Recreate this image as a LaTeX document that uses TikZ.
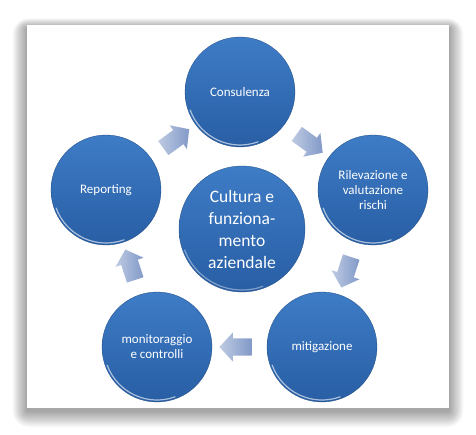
\documentclass[tikz,border=0pt]{standalone}
\usepackage{fontspec}
\setmainfont{Carlito}
\usetikzlibrary{shapes.arrows,calc}
\definecolor{circtop}{RGB}{62,124,198}
\definecolor{circbot}{RGB}{40,94,164}
\definecolor{arrtop}{RGB}{190,202,226}
\definecolor{arrbot}{RGB}{130,154,200}
\tikzset{
  bub/.style={circle, minimum size=110pt, inner sep=0pt, top color=circtop, bottom color=circbot, draw=circbot!80!black, line width=0.3pt, text=white, align=center, font=\fontsize{13}{15}\selectfont},
  bigbub/.style={bub, minimum size=126pt, font=\fontsize{17.5}{22}\selectfont},
  flow/.style={single arrow, draw=none, inner xsep=0pt, inner ysep=8.5pt, minimum height=32pt, single arrow head extend=6pt, single arrow tip angle=95, left color=arrtop, right color=arrbot},
  rim/.style={white, opacity=0.6, line width=1.2pt, line cap=round}
}
\begin{document}
\begin{tikzpicture}[x=1pt,y=-1pt]
\useasboundingbox (0,0) rectangle (476,435);
\fill[white] (0,0) rectangle (476,435);
% panel shadow
\foreach \i in {1,...,16}{
  \fill[black, opacity=0.022, rounded corners=\i pt] (27-\i*0.9, 25-\i*0.6+3) rectangle (449+\i*0.9, 408+\i*1.0+3);
}
\fill[white] (27,25) rectangle (449,408);
% circles
\node[bub] (con) at (240,92) {Consulenza};
\node[bub] (ril) at (373,190) {Rilevazione e\\valutazione\\rischi};
\node[bub] (mit) at (322,347) {mitigazione};
\node[bub] (mon) at (157,347) {monitoraggio\\e controlli};
\node[bub] (rep) at (106,190) {Reporting};
\node[bigbub] (cul) at (242,229) {Cultura e\\funziona-\\mento\\aziendale};
% rim highlights
\foreach \n in {con,ril,mit,mon,rep}{
  \draw[rim] ($(\n.center)+(200:53pt)$) arc[start angle=200, end angle=290, radius=53pt];
}
\draw[rim, opacity=0.4] ($(cul.center)+(200:61pt)$) arc[start angle=200, end angle=290, radius=61pt];
% arrows
\path (rep) -- (con) node[midway, flow, rotate=36] (a1) {};
\path (con) -- (ril) node[midway, flow, rotate=-36] (a2) {};
\path (ril) -- (mit) node[midway, flow, rotate=-108] (a3) {};
\path (mit) -- (mon) node[midway, flow, rotate=180] (a4) {};
\path (mon) -- (rep) node[midway, flow, rotate=108] (a5) {};
\end{tikzpicture}
\end{document}
